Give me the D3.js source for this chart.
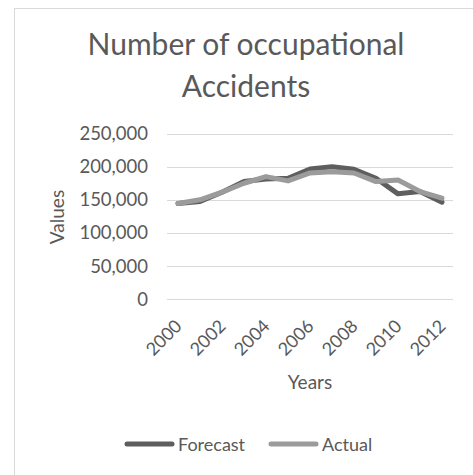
<!DOCTYPE html>
<html>
<head>
<meta charset="utf-8">
<script src="https://cdn.jsdelivr.net/npm/d3@7"></script>
<style>
  html, body { margin: 0; padding: 0; background: #fff; }
  svg { display: block; font-family: Lato, "Open Sans", sans-serif; }
</style>
</head>
<body>
<svg id="chart" width="473" height="475"></svg>
<script>
// Occupational accidents per year: forecast vs. actual
const years = [2000, 2001, 2002, 2003, 2004, 2005, 2006, 2007, 2008, 2009, 2010, 2011, 2012];
const forecast = [144500, 147500, 161500, 177500, 181500, 182500, 196500, 200000, 196000, 182500, 159000, 162500, 146500];
const actual   = [144500, 150000, 161500, 175000, 185000, 178500, 190500, 192500, 190500, 177500, 180000, 162500, 152500];
const yTicks = [0, 50000, 100000, 150000, 200000, 250000];
const xTickLabels = [2000, 2002, 2004, 2006, 2008, 2010, 2012];
const seriesNames = ["Forecast", "Actual"];
const seriesColors = ["#5e5e5e", "#9b9b9b"];

const svg = d3.select("#chart");
const textColor = "#595959";

// chart frame
svg.append("rect")
  .attr("x", 14.5).attr("y", 8.5)
  .attr("width", 480).attr("height", 480)
  .attr("fill", "#fff").attr("stroke", "#d9d9d9").attr("stroke-width", 1);

const plot = { left: 167, right: 453, top: 133.5, bottom: 299.3 };

const x = d3.scaleBand().domain(years).range([plot.left, plot.right]);
const y = d3.scaleLinear().domain([0, 250000]).range([plot.bottom, plot.top]);

// title
const title = svg.append("text")
  .attr("text-anchor", "middle").attr("fill", textColor)
  .style("font-size", "30px");
title.append("tspan").attr("x", 246).attr("y", 55).text("Number of occupational");
title.append("tspan").attr("x", 246).attr("y", 97).text("Accidents");

// horizontal gridlines
svg.append("g").selectAll("line").data(yTicks).join("line")
  .attr("x1", plot.left).attr("x2", plot.right)
  .attr("y1", d => Math.round(y(d)) + 0.5).attr("y2", d => Math.round(y(d)) + 0.5)
  .attr("stroke", "#d9d9d9").attr("stroke-width", 1);

// y axis labels
const yAxis = svg.append("g")
  .attr("transform", `translate(${plot.left - 19},0)`)
  .call(d3.axisLeft(y).tickValues(yTicks).tickSize(0).tickPadding(0)
    .tickFormat(d3.format(",")));
yAxis.select(".domain").remove();
yAxis.selectAll("text")
  .attr("fill", textColor).style("font-size", "18.5px")
  .style("font-family", "Lato, 'Open Sans', sans-serif");

// x axis labels, rotated
const xAxis = svg.append("g")
  .attr("transform", `translate(0,${plot.bottom})`)
  .call(d3.axisBottom(x).tickValues(xTickLabels).tickSize(0).tickPadding(0));
xAxis.select(".domain").remove();
xAxis.selectAll("text")
  .attr("fill", textColor).style("font-size", "18px")
  .style("font-family", "Lato, 'Open Sans', sans-serif")
  .attr("text-anchor", "end")
  .attr("dy", null)
  .attr("transform", "translate(5,28) rotate(-45)");

// axis titles
svg.append("text")
  .attr("text-anchor", "middle").attr("fill", textColor)
  .style("font-size", "19px")
  .attr("transform", "translate(64,217) rotate(-90)")
  .text("Values");
svg.append("text")
  .attr("text-anchor", "middle").attr("fill", textColor)
  .style("font-size", "19px")
  .attr("x", (plot.left + plot.right) / 2).attr("y", 389)
  .text("Years");

// series lines
const line = d3.line()
  .x((d, i) => x(years[i]) + x.bandwidth() / 2)
  .y(d => y(d));
[forecast, actual].forEach((vals, k) => {
  svg.append("path")
    .datum(vals)
    .attr("fill", "none")
    .attr("stroke", seriesColors[k])
    .attr("stroke-width", 5)
    .attr("stroke-linejoin", "round")
    .attr("stroke-linecap", "round")
    .attr("d", line);
});

// legend
const legendItems = [
  { x1: 127, x2: 172, tx: 178 },
  { x1: 271, x2: 316, tx: 322 }
];
const legend = svg.append("g");
legendItems.forEach((p, k) => {
  legend.append("line")
    .attr("x1", p.x1).attr("x2", p.x2).attr("y1", 444).attr("y2", 444)
    .attr("stroke", seriesColors[k]).attr("stroke-width", 5)
    .attr("stroke-linecap", "round");
  legend.append("text")
    .attr("x", p.tx).attr("y", 450.5)
    .attr("fill", textColor).style("font-size", "18px")
    .text(seriesNames[k]);
});
</script>
</body>
</html>
